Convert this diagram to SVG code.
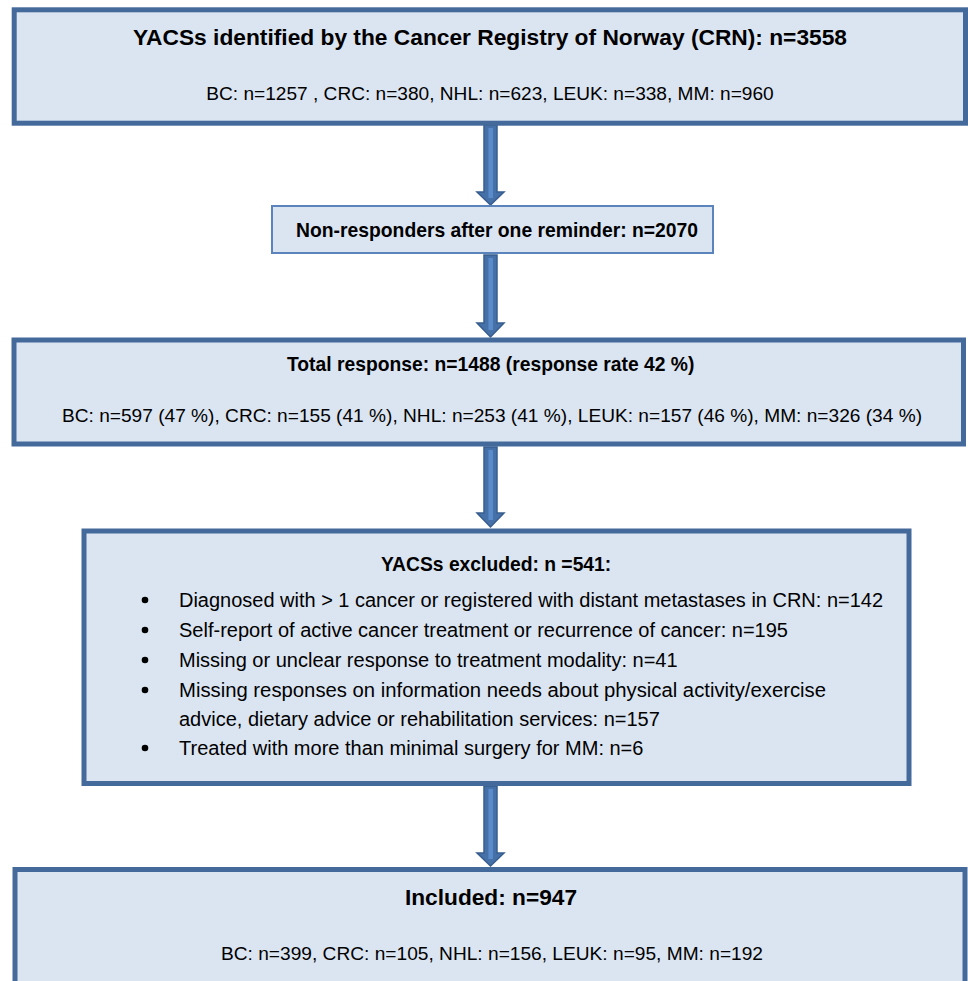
<svg xmlns="http://www.w3.org/2000/svg" width="968" height="981" viewBox="0 0 968 981">
<style>
.box{fill:#dbe5f1;stroke:#44699b;stroke-width:5}
.thin{fill:#dbe5f1;stroke:#5a84bb;stroke-width:2}
text{font-family:"Liberation Sans",Arial,sans-serif;fill:#000}
.b{font-weight:bold}
.r{font-size:19.1px}
.bl{font-size:20px}
.h{font-size:19.3px;font-weight:bold}
.H{font-size:22.7px;font-weight:bold}
.arr{fill:#4670a8;stroke:#375d8f;stroke-width:1.5;stroke-linejoin:miter}
.str{stroke:#5a8ccb;stroke-width:4.5}
</style>
<rect width="968" height="981" fill="#ffffff"/>
<g id="connectors">
 <g><polygon class="arr" points="484,125 497,125 497,192 504,192 490.5,205 477,192 484,192"/><line class="str" x1="490.7" y1="128" x2="490.7" y2="198"/></g>
 <g><polygon class="arr" points="484,255 497,255 497,323 504,323 490.5,337 477,323 484,323"/><line class="str" x1="490.7" y1="258" x2="490.7" y2="330"/></g>
 <g><polygon class="arr" points="484,447 497,447 497,513 504,513 490.5,527 477,513 484,513"/><line class="str" x1="490.7" y1="450" x2="490.7" y2="520"/></g>
 <g><polygon class="arr" points="484,786 497,786 497,853 504,853 490.5,866 477,853 484,853"/><line class="str" x1="490.7" y1="789" x2="490.7" y2="859"/></g>
</g>
<g id="identified">
 <rect class="box" x="14.2" y="9.8" width="951.3" height="113.4"/>
 <text class="H" x="133" y="45" textLength="714" lengthAdjust="spacingAndGlyphs">YACSs identified by the Cancer Registry of Norway (CRN): n=3558</text>
 <text class="r" x="490" y="100" text-anchor="middle">BC: n=1257 , CRC: n=380, NHL: n=623, LEUK: n=338, MM: n=960</text>
</g>
<g id="nonresponders">
 <rect class="thin" x="272" y="206" width="441" height="47"/>
 <text class="h" x="296" y="237" textLength="402" lengthAdjust="spacingAndGlyphs">Non-responders after one reminder: n=2070</text>
</g>
<g id="total">
 <rect class="box" x="14" y="340" width="949.5" height="104"/>
 <text class="h" x="287" y="371">Total response: n=1488 (response rate 42 %)</text>
 <text class="r" x="62" y="422" textLength="860" lengthAdjust="spacingAndGlyphs">BC: n=597 (47 %), CRC: n=155 (41 %), NHL: n=253 (41 %), LEUK: n=157 (46 %), MM: n=326 (34 %)</text>
</g>
<g id="excluded">
 <rect class="box" x="84" y="531" width="825" height="252.5"/>
 <text class="h" x="381" y="571">YACSs excluded: n =541:</text>
 <g fill="#000">
  <circle cx="145" cy="600" r="3.3"/>
  <circle cx="145" cy="630" r="3.3"/>
  <circle cx="145" cy="660" r="3.3"/>
  <circle cx="145" cy="690" r="3.3"/>
  <circle cx="145" cy="748" r="3.3"/>
 </g>
 <text class="bl" x="179" y="607" textLength="704" lengthAdjust="spacingAndGlyphs">Diagnosed with &gt; 1 cancer or registered with distant metastases in CRN: n=142</text>
 <text class="bl" x="179" y="637" textLength="609" lengthAdjust="spacingAndGlyphs">Self-report of active cancer treatment or recurrence of cancer: n=195</text>
 <text class="bl" x="179" y="667">Missing or unclear response to treatment modality: n=41</text>
 <text class="bl" x="179" y="697" textLength="647" lengthAdjust="spacingAndGlyphs">Missing responses on information needs about physical activity/exercise</text>
 <text class="bl" x="179" y="726">advice, dietary advice or rehabilitation services: n=157</text>
 <text class="bl" x="179" y="755">Treated with more than minimal surgery for MM: n=6</text>
</g>
<g id="included">
 <rect class="box" x="15" y="869.5" width="950" height="200"/>
 <text class="H" x="491" y="905" text-anchor="middle">Included: n=947</text>
 <text class="r" x="221" y="960" textLength="542" lengthAdjust="spacingAndGlyphs">BC: n=399, CRC: n=105, NHL: n=156, LEUK: n=95, MM: n=192</text>
</g>
</svg>
